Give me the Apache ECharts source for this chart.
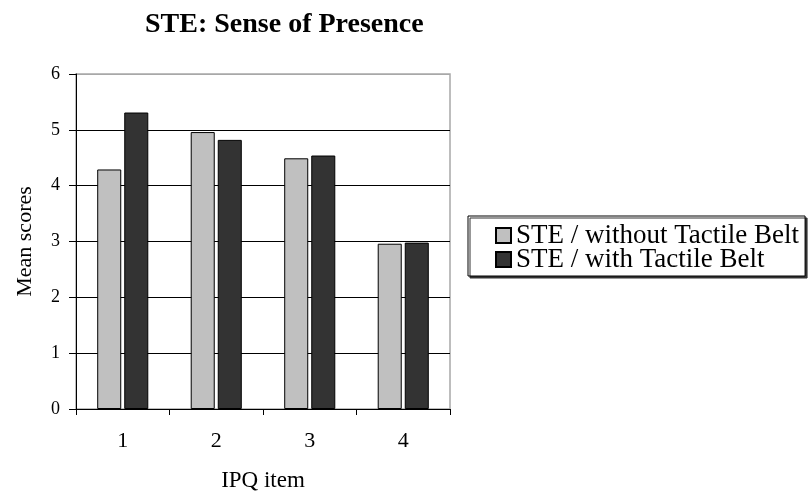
<!DOCTYPE html>
<html>
<head>
<meta charset="utf-8">
<script src="https://cdn.jsdelivr.net/npm/echarts@6/dist/echarts.min.js"></script>
<style>
  html, body { margin: 0; padding: 0; background: #fff; }
  #chart { width: 810px; height: 493px; }
</style>
</head>
<body>
<div id="chart"></div>
<script>
// IPQ items and mean scores for the two STE conditions
const categories = ['1', '2', '3', '4'];
const withoutBelt = [4.29, 4.96, 4.49, 2.96];
const withBelt = [5.31, 4.82, 4.54, 2.98];
const seriesNames = ['STE / without Tactile Belt', 'STE / with Tactile Belt'];
const yTicks = { min: 0, max: 6, interval: 1 };

const serif = "'Liberation Serif', 'Times New Roman', serif";

const chart = echarts.init(document.getElementById('chart'), null, { renderer: 'canvas' });

chart.setOption({
  animation: false,
  backgroundColor: '#ffffff',
  title: {
    text: 'STE: Sense of Presence',
    left: 145,
    top: 11,
    padding: 0,
    textStyle: { fontFamily: serif, fontSize: 28, fontWeight: 'bold', color: '#000' }
  },
  grid: {
    left: 76, right: 360, top: 74, bottom: 84,
    containLabel: false,
    outerBoundsMode: 'none',
    show: true, borderColor: '#a8a8a8', borderWidth: 1.5, backgroundColor: 'transparent'
  },
  legend: {
    orient: 'vertical',
    left: 468,
    top: 216,
    padding: [6, 6, 3, 27],
    itemGap: -3,
    itemWidth: 15,
    itemHeight: 15,
    icon: 'rect',
    backgroundColor: '#fff',
    borderColor: '#000',
    borderWidth: 1,
    shadowColor: '#333',
    shadowBlur: 0,
    shadowOffsetX: 2,
    shadowOffsetY: 2,
    textStyle: { fontFamily: serif, fontSize: 27, lineHeight: 24, color: '#000' },
    data: seriesNames
  },
  xAxis: {
    type: 'category',
    data: categories,
    name: 'IPQ item',
    nameLocation: 'middle',
    nameGap: 60,
    nameTextStyle: { fontFamily: serif, fontSize: 23, color: '#000' },
    axisLine: { lineStyle: { color: '#000', width: 1 } },
    axisTick: { show: true, length: 6, lineStyle: { color: '#000' } },
    axisLabel: { margin: 21, fontFamily: serif, fontSize: 22, color: '#000' }
  },
  yAxis: {
    type: 'value',
    min: yTicks.min,
    max: yTicks.max,
    interval: yTicks.interval,
    name: 'Mean scores',
    nameLocation: 'middle',
    nameGap: 40,
    nameTextStyle: { fontFamily: serif, fontSize: 22, color: '#000' },
    axisLine: { show: true, lineStyle: { color: '#000', width: 1 } },
    axisTick: { show: true, length: 7, lineStyle: { color: '#000' } },
    axisLabel: { margin: 16, fontFamily: serif, fontSize: 18, color: '#000' },
    splitLine: {
      show: true,
      lineStyle: { color: ['#000', '#000', '#000', '#000', '#000', '#000', '#a8a8a8'], width: 1 }
    }
  },
  series: [
    {
      name: seriesNames[0],
      type: 'bar',
      data: withoutBelt,
      barWidth: '25.7%',
      barGap: '12.5%',
      itemStyle: { color: '#c0c0c0', borderColor: '#000', borderWidth: 1 }
    },
    {
      name: seriesNames[1],
      type: 'bar',
      data: withBelt,
      barWidth: '25.7%',
      barGap: '12.5%',
      itemStyle: { color: '#333333', borderColor: '#000', borderWidth: 1 }
    }
  ]
});
</script>
</body>
</html>
